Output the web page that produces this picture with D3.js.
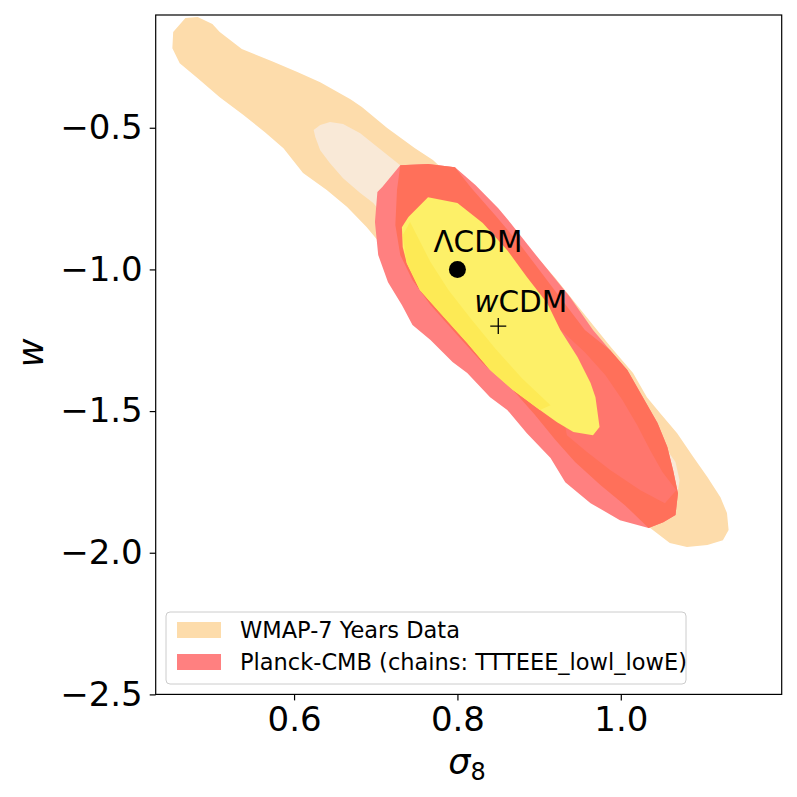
<!DOCTYPE html>
<html>
<head>
<meta charset="utf-8">
<script src="https://cdn.jsdelivr.net/npm/d3@7"></script>
<style>
  body { margin: 0; background: #fff; }
  text { font-family: "DejaVu Sans", sans-serif; }
</style>
</head>
<body>
<div id="chart"></div>
<script>
// axis ticks
const xTicks = [0.6, 0.8, 1.0];
const yTicks = [-0.5, -1.0, -1.5, -2.0, -2.5];

// WMAP-7 contours (sigma_8, w)
const wmapOuter = [[0.467,-0.113],[0.482,-0.109],[0.500,-0.134],[0.509,-0.162],[0.536,-0.222],[0.573,-0.265],[0.604,-0.303],[0.632,-0.339],[0.669,-0.399],[0.683,-0.427],[0.714,-0.501],[0.748,-0.572],[0.770,-0.614],[0.803,-0.702],[0.840,-0.791],[0.877,-0.889],[0.920,-1.031],[0.963,-1.186],[0.989,-1.278],[1.015,-1.366],[1.032,-1.451],[1.048,-1.507],[1.069,-1.578],[1.089,-1.663],[1.106,-1.733],[1.122,-1.804],[1.130,-1.860],[1.132,-1.920],[1.125,-1.956],[1.106,-1.973],[1.081,-1.980],[1.060,-1.966],[1.036,-1.913],[0.975,-1.779],[0.901,-1.602],[0.828,-1.391],[0.754,-1.143],[0.718,-0.967],[0.705,-0.907],[0.689,-0.851],[0.665,-0.780],[0.640,-0.720],[0.611,-0.660],[0.587,-0.572],[0.564,-0.515],[0.538,-0.455],[0.509,-0.392],[0.482,-0.325],[0.460,-0.272],[0.451,-0.219],[0.452,-0.162]];
const wmapInner = [[0.624,-0.508],[0.632,-0.490],[0.644,-0.480],[0.660,-0.487],[0.681,-0.519],[0.702,-0.568],[0.730,-0.632],[0.779,-0.773],[0.852,-1.002],[0.926,-1.249],[0.999,-1.461],[1.048,-1.602],[1.067,-1.680],[1.072,-1.744],[1.069,-1.800],[1.058,-1.807],[1.024,-1.708],[0.950,-1.496],[0.852,-1.214],[0.754,-0.967],[0.697,-0.766],[0.681,-0.730],[0.660,-0.678],[0.644,-0.625],[0.632,-0.579],[0.626,-0.533]];

// Planck-CMB contours
const planckOuter = [[0.730,-0.632],[0.764,-0.628],[0.797,-0.639],[0.822,-0.702],[0.850,-0.784],[0.865,-0.836],[0.901,-0.967],[0.938,-1.098],[0.966,-1.214],[0.987,-1.285],[1.008,-1.355],[1.027,-1.451],[1.045,-1.542],[1.057,-1.627],[1.064,-1.708],[1.070,-1.790],[1.067,-1.867],[1.052,-1.892],[1.034,-1.913],[0.999,-1.885],[0.963,-1.825],[0.932,-1.751],[0.914,-1.666],[0.885,-1.578],[0.861,-1.496],[0.840,-1.451],[0.812,-1.366],[0.794,-1.327],[0.767,-1.249],[0.745,-1.196],[0.732,-1.126],[0.715,-1.045],[0.703,-0.949],[0.699,-0.833],[0.702,-0.727],[0.708,-0.709]];
const planckBand = [[0.730,-0.632],[0.764,-0.628],[0.797,-0.639],[0.816,-0.709],[0.846,-0.808],[0.879,-0.921],[0.916,-1.062],[0.956,-1.214],[0.987,-1.285],[1.008,-1.355],[1.027,-1.451],[1.045,-1.542],[1.057,-1.627],[1.064,-1.708],[1.070,-1.790],[1.067,-1.867],[1.052,-1.892],[1.034,-1.913],[1.005,-1.832],[0.975,-1.761],[0.944,-1.680],[0.920,-1.602],[0.895,-1.514],[0.868,-1.426],[0.831,-1.331],[0.800,-1.232],[0.767,-1.126],[0.745,-1.038],[0.730,-0.949],[0.724,-0.843],[0.726,-0.720]];
const planckGap = [[0.920,-1.196],[0.956,-1.292],[0.981,-1.373],[1.002,-1.461],[1.020,-1.549],[1.036,-1.638],[1.051,-1.715],[1.068,-1.779],[1.054,-1.825],[1.024,-1.779],[0.987,-1.708],[0.959,-1.645],[0.934,-1.585],[0.926,-1.461],[0.914,-1.320]];
const planckCore = [[0.732,-0.851],[0.740,-0.815],[0.764,-0.745],[0.800,-0.766],[0.831,-0.836],[0.861,-0.932],[0.885,-1.027],[0.910,-1.119],[0.926,-1.214],[0.947,-1.309],[0.963,-1.401],[0.969,-1.451],[0.974,-1.556],[0.966,-1.585],[0.942,-1.574],[0.922,-1.539],[0.901,-1.496],[0.868,-1.426],[0.840,-1.355],[0.812,-1.260],[0.779,-1.154],[0.754,-1.073],[0.738,-0.978],[0.733,-0.921]];
const planckCoreEdge = [[0.733,-0.879],[0.738,-0.978],[0.754,-1.073],[0.779,-1.154],[0.812,-1.260],[0.840,-1.355],[0.868,-1.426],[0.901,-1.496],[0.914,-1.479],[0.879,-1.384],[0.846,-1.278],[0.816,-1.172],[0.789,-1.073],[0.767,-0.974],[0.752,-0.889],[0.742,-0.833]];

// model points
const lcdm = [0.80, -1.0];
const wcdm = [0.85, -1.2];

const legendLabels = ["WMAP-7 Years Data", "Planck-CMB (chains: TTTEEE_lowl_lowE)"];
const legendColors = ["#fddcab", "#ff8080"];

const width = 797, height = 797;
const margin = { top: 15, right: 15.3, bottom: 102.6, left: 155.7 };

const svg = d3.select("#chart").append("svg")
    .attr("width", width)
    .attr("height", height);

const x = d3.scaleLinear()
    .domain([0.4306, 1.197])
    .range([margin.left, width - margin.right]);
const y = d3.scaleLinear()
    .domain([-2.5, -0.102])
    .range([height - margin.bottom, margin.top]);

const line = d3.line()
    .x(d => x(d[0]))
    .y(d => y(d[1]))
    .curve(d3.curveLinearClosed);

// clip contours to plot area
svg.append("clipPath").attr("id", "plotClip")
    .append("rect")
    .attr("x", margin.left).attr("y", margin.top)
    .attr("width", width - margin.left - margin.right)
    .attr("height", height - margin.top - margin.bottom);

const plot = svg.append("g").attr("clip-path", "url(#plotClip)");

// painted back to front
const layers = [
    { pts: wmapOuter, color: "#fddcab" },
    { pts: wmapInner, color: "#f9e9d7" },
    { pts: planckOuter, color: "#ff8080" },
    { pts: planckBand, color: "#ff705a" },
    { pts: planckGap, color: "#ff766d" },
    { pts: planckCore, color: "#fdf068" },
    { pts: planckCoreEdge, color: "#fdea55" }
];

plot.selectAll("path.contour")
    .data(layers)
    .enter()
    .append("path")
    .attr("class", "contour")
    .attr("d", d => line(d.pts))
    .attr("fill", d => d.color)
    .attr("stroke", "none");

// LCDM dot
plot.append("circle")
    .attr("cx", x(lcdm[0]))
    .attr("cy", y(lcdm[1]))
    .attr("r", 8.5)
    .attr("fill", "#000");

// wCDM plus marker
const px = x(wcdm[0]), py = y(wcdm[1]);
plot.append("path")
    .attr("d", `M${px - 8},${py}H${px + 8}M${px},${py - 8}V${py + 8}`)
    .attr("stroke", "#000")
    .attr("stroke-width", 1.3)
    .attr("fill", "none");

// annotations
svg.append("text")
    .attr("x", x(lcdm[0]) - 24)
    .attr("y", y(lcdm[1]) - 17)
    .attr("font-size", "29.5px")
    .attr("fill", "#000")
    .text("ΛCDM");

const wLabel = svg.append("text")
    .attr("x", px - 24)
    .attr("y", py - 14)
    .attr("font-size", "29.5px")
    .attr("fill", "#000");
wLabel.append("tspan").attr("font-style", "italic").text("w");
wLabel.append("tspan").text("CDM");

// axes
const fmt = d3.format(".1f");

const xAxis = svg.append("g")
    .attr("transform", `translate(0,${height - margin.bottom})`)
    .call(d3.axisBottom(x).tickValues(xTicks).tickFormat(fmt).tickSize(6).tickPadding(6));

const yAxis = svg.append("g")
    .attr("transform", `translate(${margin.left},0)`)
    .call(d3.axisLeft(y).tickValues(yTicks).tickFormat(fmt).tickSize(6).tickPadding(7));

[xAxis, yAxis].forEach(a => {
    a.select(".domain").remove();
    a.selectAll(".tick line").attr("stroke", "#000").attr("stroke-width", 1.2);
    a.selectAll(".tick text")
        .attr("fill", "#000")
        .style("font-family", "'DejaVu Sans', sans-serif")
        .style("font-size", "34px");
});

// frame
svg.append("rect")
    .attr("x", margin.left)
    .attr("y", margin.top)
    .attr("width", width - margin.left - margin.right)
    .attr("height", height - margin.top - margin.bottom)
    .attr("fill", "none")
    .attr("stroke", "#000")
    .attr("stroke-width", 1.2);

// axis labels
const xLabel = svg.append("text")
    .attr("x", 467)
    .attr("y", 774)
    .attr("text-anchor", "middle")
    .attr("font-size", "35px")
    .attr("fill", "#000");
xLabel.append("tspan").attr("font-style", "italic").text("σ");
xLabel.append("tspan").attr("font-size", "24px").attr("dy", 6).text("8");

svg.append("text")
    .attr("transform", "translate(43,353) rotate(-90)")
    .attr("text-anchor", "middle")
    .attr("font-size", "35px")
    .attr("font-style", "italic")
    .attr("fill", "#000")
    .text("w");

// legend
const legend = svg.append("g").attr("transform", "translate(166,612)");

legend.append("rect")
    .attr("width", 520)
    .attr("height", 72)
    .attr("rx", 4)
    .attr("fill", "#fff")
    .attr("fill-opacity", 0.8)
    .attr("stroke", "#cccccc")
    .attr("stroke-width", 1);

const items = legend.selectAll("g.item")
    .data(legendLabels)
    .enter()
    .append("g")
    .attr("class", "item")
    .attr("transform", (d, i) => `translate(11,${10 + i * 32})`);

items.append("rect")
    .attr("width", 44)
    .attr("height", 16)
    .attr("fill", (d, i) => legendColors[i]);

items.append("text")
    .attr("x", 63)
    .attr("y", 16)
    .attr("font-size", "22.5px")
    .attr("fill", "#000")
    .text(d => d);
</script>
</body>
</html>
